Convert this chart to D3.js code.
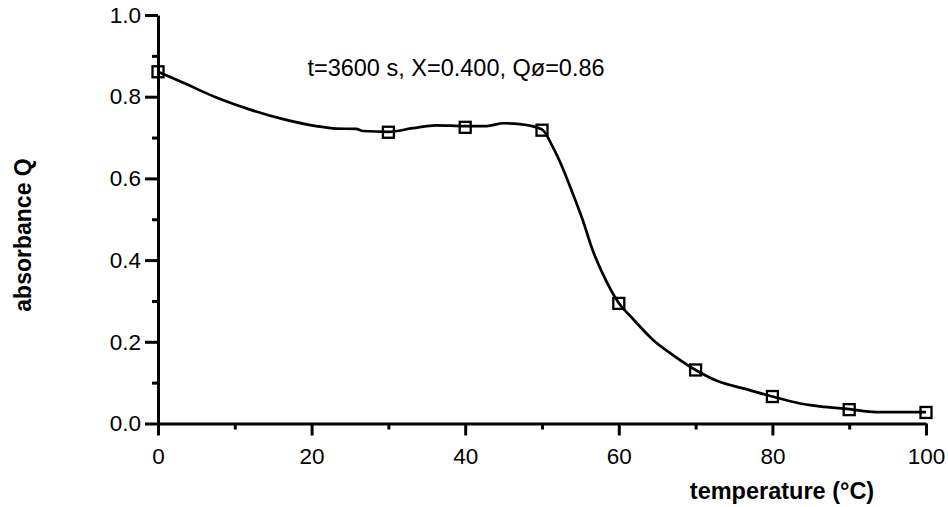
<!DOCTYPE html>
<html>
<head>
<meta charset="utf-8">
<script src="https://cdn.jsdelivr.net/npm/d3@7"></script>
<style>
  body { margin: 0; background: #fff; }
  svg { display: block; font-family: "Liberation Sans", Arial, sans-serif; }
</style>
</head>
<body>
<svg id="chart" width="948" height="507"></svg>
<script>
// measured points (squares)
var markerT = [0, 30, 40, 50, 60, 70, 80, 90, 100];
var markerQ = [0.861, 0.713, 0.725, 0.718, 0.294, 0.131, 0.066, 0.034, 0.027];

// fitted curve
var curveT = [0, 3.3, 7.6, 11.9, 16.3, 20.6, 23.2, 25.8, 26.7, 30, 33.2, 36.2, 40, 42.8, 45, 47.1, 50,
  51.4, 52.7, 54.0, 55.3, 56.6, 57.9, 60, 61.8, 64.5, 67.1, 70, 73.1, 76.2, 80, 83.6, 86.2, 90, 93.5, 100];
var curveQ = [0.861, 0.834, 0.798, 0.769, 0.745, 0.728, 0.722, 0.721, 0.716, 0.714, 0.723, 0.730, 0.728, 0.728, 0.735, 0.733, 0.720,
  0.677, 0.625, 0.563, 0.498, 0.424, 0.367, 0.295, 0.257, 0.204, 0.167, 0.131, 0.102, 0.086, 0.066, 0.049, 0.042, 0.035, 0.028, 0.028];

var xMajor = [0, 20, 40, 60, 80, 100];
var xMinor = [10, 30, 50, 70, 90];
var yMajor = [0, 0.2, 0.4, 0.6, 0.8, 1.0];
var yMinor = [0.1, 0.3, 0.5, 0.7, 0.9];

var titleText = "t=3600 s, X=0.400, Qø=0.86";

var svg = d3.select("#chart");

var x = d3.scaleLinear().domain([0, 100]).range([158, 926]);
var y = d3.scaleLinear().domain([0, 1]).range([423.5, 15]);

// x axis
var gx = svg.append("g").attr("transform", "translate(0," + y(0) + ")");
gx.call(d3.axisBottom(x).tickValues(xMajor).tickSize(12).tickSizeOuter(0).tickPadding(13)
  .tickFormat(d3.format("d")));
gx.append("g").call(d3.axisBottom(x).tickValues(xMinor).tickSize(6).tickFormat(""))
  .select(".domain").remove();

// y axis
var gy = svg.append("g").attr("transform", "translate(" + x(0) + ",0)");
gy.call(d3.axisLeft(y).tickValues(yMajor).tickSize(13).tickSizeOuter(0).tickPadding(4)
  .tickFormat(d3.format(".1f")));
gy.append("g").call(d3.axisLeft(y).tickValues(yMinor).tickSize(6).tickFormat(""))
  .select(".domain").remove();

svg.selectAll(".domain").attr("stroke", "#000").attr("stroke-width", 3);
svg.selectAll(".tick line").attr("stroke", "#000").attr("stroke-width", 3);
svg.selectAll(".tick text").attr("fill", "#000").attr("font-size", "22.5px")
  .attr("font-family", "'Liberation Sans', Arial, sans-serif");

// curve
var line = d3.line()
  .x(function(d, i) { return x(curveT[i]); })
  .y(function(d, i) { return y(curveQ[i]); })
  .curve(d3.curveMonotoneX);

svg.append("path")
  .datum(curveQ)
  .attr("d", line)
  .attr("fill", "none")
  .attr("stroke", "#000")
  .attr("stroke-width", 2.7);

// square markers
svg.selectAll("rect.pt")
  .data(markerQ)
  .enter()
  .append("rect")
    .attr("class", "pt")
    .attr("x", function(d, i) { return x(markerT[i]) - 5.5; })
    .attr("y", function(d) { return y(d) - 5.5; })
    .attr("width", 11)
    .attr("height", 11)
    .attr("fill", "none")
    .attr("stroke", "#000")
    .attr("stroke-width", 2.3);

// title
svg.append("text")
  .attr("x", 456)
  .attr("y", 76)
  .attr("text-anchor", "middle")
  .attr("font-size", "23.5px")
  .text(titleText);

// axis labels
svg.append("text")
  .attr("x", 782)
  .attr("y", 499)
  .attr("text-anchor", "middle")
  .attr("font-size", "23.5px")
  .attr("font-weight", "bold")
  .text("temperature (°C)");

svg.append("text")
  .attr("transform", "translate(31,235) rotate(-90)")
  .attr("text-anchor", "middle")
  .attr("font-size", "23px")
  .attr("font-weight", "bold")
  .text("absorbance Q");
</script>
</body>
</html>
